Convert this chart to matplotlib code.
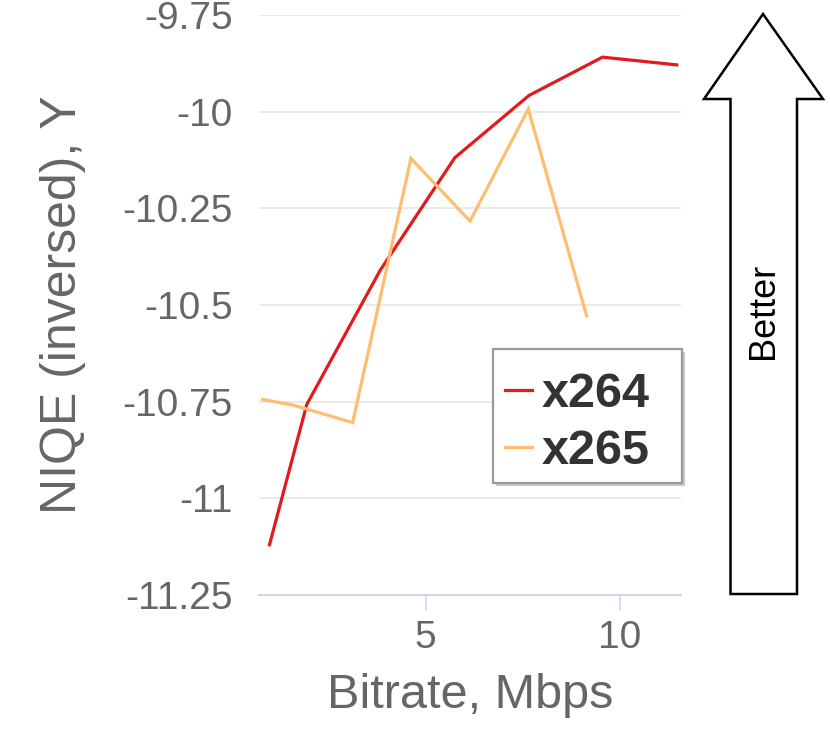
import matplotlib
matplotlib.use("Agg")
import matplotlib.pyplot as plt
from matplotlib.patches import Polygon, Rectangle

plt.rcParams['font.family'] = ['Liberation Sans', 'DejaVu Sans']

# ---- data ----
x264_bitrate = [0.98, 1.94, 3.83, 5.75, 7.66, 9.55, 11.46]
x264_niqe = [-11.12, -10.757, -10.41, -10.119, -9.958, -9.859, -9.879]
x265_bitrate = [0.80, 1.59, 3.12, 4.62, 6.14, 7.64, 9.14]
x265_niqe = [-10.744, -10.759, -10.804, -10.121, -10.283, -9.993, -10.528]
series_names = ["x264", "x265"]
series_colors = ["#e31a1c", "#fdbf6f"]
y_ticks = [-11.25, -11, -10.75, -10.5, -10.25, -10, -9.75]
y_tick_labels = ["-11.25", "-11", "-10.75", "-10.5", "-10.25", "-10", "-9.75"]
x_ticks = [5, 10]
x_tick_labels = ["5", "10"]

W, H = 830, 747
fig = plt.figure(figsize=(W / 100, H / 100), dpi=100)
AX_L, AX_R, AX_T, AX_B = 259, 681, 15, 595
ax = fig.add_axes([AX_L / W, 1 - AX_B / H, (AX_R - AX_L) / W, (AX_B - AX_T) / H])

def ax_x(px):
    return (px - AX_L) / (AX_R - AX_L)

def ax_y(py):
    return (AX_B - py) / (AX_B - AX_T)

ax.plot(x264_bitrate, x264_niqe, color=series_colors[0], lw=2.3, label=series_names[0],
        solid_joinstyle='miter', zorder=3)
ax.plot(x265_bitrate, x265_niqe, color=series_colors[1], lw=2.3, label=series_names[1],
        solid_joinstyle='miter', zorder=3)

ax.set_xlim(0.71, 11.57)
ax.set_ylim(-11.25, -9.75)

ax.set_yticks(y_ticks)
ax.set_yticklabels(y_tick_labels)
ax.set_xticks(x_ticks)
ax.set_xticklabels(x_tick_labels)

ax.grid(axis='y', color='#e6e6e6', lw=1.2, zorder=0)
ax.set_axisbelow(True)
for s in ['top', 'right', 'left']:
    ax.spines[s].set_visible(False)
ax.spines['bottom'].set_color('#ccd6eb')
ax.spines['bottom'].set_linewidth(1.5)
ax.spines['bottom'].set_zorder(1)

ax.tick_params(axis='y', length=0, pad=19, labelsize=28, labelcolor='#666666')
ax.tick_params(axis='x', length=11, width=1.2, color='#ccd6eb', pad=7,
               labelsize=28, labelcolor='#666666')

ax.set_xlabel("Bitrate, Mbps", fontsize=35, color='#666666')
ax.xaxis.set_label_coords(0.5, -0.135)
ax.set_ylabel("NIQE (inversed), Y", fontsize=36, color='#666666')
ax.yaxis.set_label_coords(-0.41, 0.5)

# legend box (frame with shadow) drawn explicitly
bx0, bx1, by0, by1 = 493, 682, 349, 483
shadow = Rectangle((ax_x(bx0 + 3), ax_y(by1 + 3)), ax_x(bx1) - ax_x(bx0), ax_y(by0) - ax_y(by1),
                   transform=ax.transAxes, facecolor='#c8c8c8', edgecolor='none',
                   zorder=4, clip_on=False)
frame = Rectangle((ax_x(bx0), ax_y(by1)), ax_x(bx1) - ax_x(bx0), ax_y(by0) - ax_y(by1),
                  transform=ax.transAxes, facecolor='white', edgecolor='#999999',
                  lw=1.6, zorder=5, clip_on=False)
ax.add_patch(shadow)
ax.add_patch(frame)

leg = ax.legend(loc='upper left', bbox_to_anchor=(ax_x(505), ax_y(372)), frameon=False,
                handlelength=0.55, handletextpad=0.2, labelspacing=0.25,
                borderpad=0, borderaxespad=0,
                prop={'size': 35, 'weight': 'bold'})
leg.set_zorder(6)
for t in leg.get_texts():
    t.set_color('#333333')

# "Better" arrow
pts = [(763, 14), (823, 99), (797, 99), (797, 594), (730.5, 594), (730.5, 99), (704, 99)]
arrow = Polygon([(px / W, 1 - py / H) for px, py in pts], closed=True,
                transform=fig.transFigure, facecolor='white', edgecolor='black',
                lw=1.8, joinstyle='miter')
fig.patches.append(arrow)
fig.text(763.5 / W, 1 - 311 / H, "Better", rotation=90, ha='center', va='center',
         fontsize=26, color='black')

fig.savefig("out.png", dpi=100)
